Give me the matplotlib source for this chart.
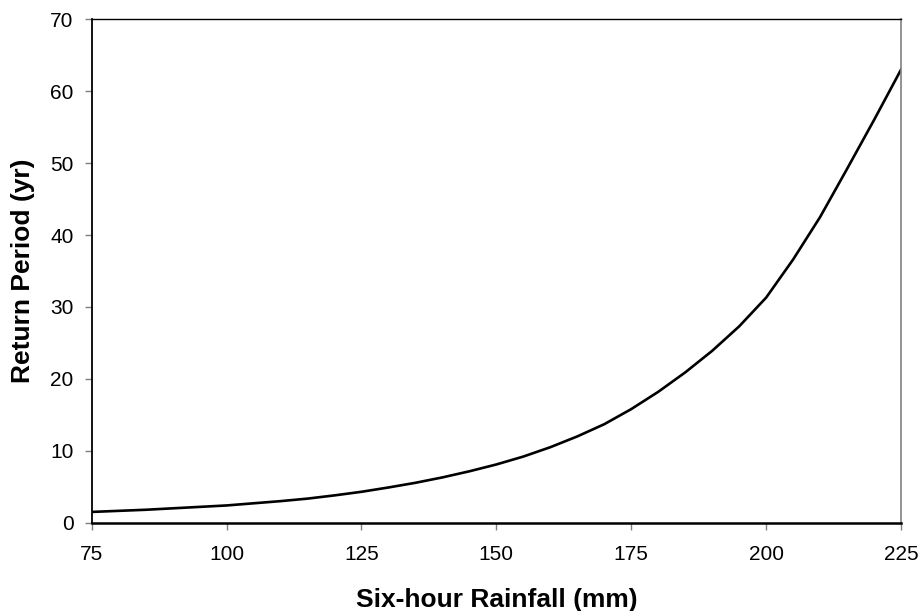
import matplotlib
matplotlib.use("Agg")
import matplotlib.pyplot as plt

plt.rcParams['font.family'] = ['Liberation Sans', 'DejaVu Sans']

# Six-hour rainfall (mm) vs return period (yr)
rainfall = [75, 80, 85, 90, 95, 100, 105, 110, 115, 120, 125, 130, 135, 140,
            145, 150, 155, 160, 165, 170, 175, 180, 185, 190, 195, 200, 205,
            210, 215, 220, 225]
return_period = [1.5, 1.65, 1.8, 2.0, 2.2, 2.4, 2.7, 3.0, 3.35, 3.8, 4.3, 4.9,
                 5.55, 6.3, 7.15, 8.1, 9.2, 10.5, 12.0, 13.7, 15.8, 18.2, 20.9,
                 23.9, 27.3, 31.3, 36.6, 42.5, 49.2, 56.0, 63.0]
x_ticks = [75, 100, 125, 150, 175, 200, 225]
y_ticks = [0, 10, 20, 30, 40, 50, 60, 70]

TICK_SIZE = 15
LABEL_SIZE = 19

fig = plt.figure(figsize=(9.21, 6.11), dpi=100)
ax = fig.add_axes([0.0996, 0.1445, 0.8787, 0.8239])

ax.plot(rainfall, return_period, color="black", linewidth=1.9)

ax.set_xlim(75, 225)
ax.set_ylim(0, 70)
ax.set_xticks(x_ticks)
ax.set_yticks(y_ticks)

ax.spines['top'].set_linewidth(1.0)
ax.spines['top'].set_color("black")
ax.spines['left'].set_linewidth(1.3)
ax.spines['left'].set_color("black")
ax.spines['bottom'].set_linewidth(1.8)
ax.spines['bottom'].set_color("black")
ax.spines['right'].set_linewidth(1.2)
ax.spines['right'].set_color("#808080")

ax.tick_params(axis='x', direction='out', length=5, width=1, color="#808080",
               labelsize=TICK_SIZE, pad=11)
ax.tick_params(axis='y', direction='out', length=5, width=1, color="#808080",
               labelsize=TICK_SIZE, pad=8)

ax.set_xlabel("Six-hour Rainfall (mm)", fontsize=LABEL_SIZE, fontweight="bold",
              labelpad=17)
ax.set_ylabel("Return Period (yr)", fontsize=LABEL_SIZE, fontweight="bold",
              labelpad=11)

fig.savefig("out.png", dpi=100)
